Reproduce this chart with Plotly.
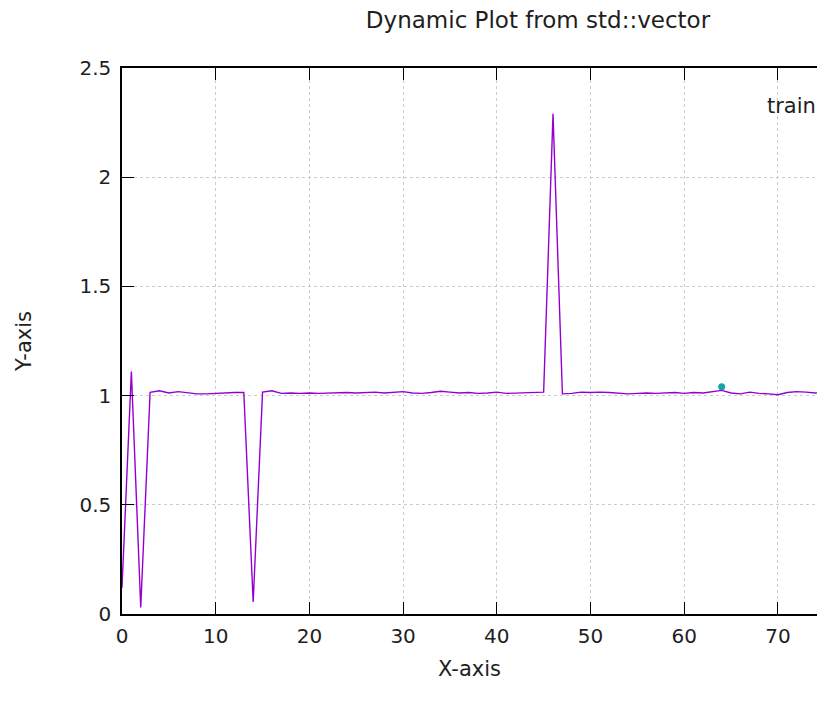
import plotly.graph_objects as go

x_values = list(range(0, 77))
train_values = [
    0.12, 1.11, 0.03, 1.015, 1.022, 1.012, 1.018, 1.012, 1.008, 1.008,
    1.010, 1.014, 1.014, 1.014, 0.055, 1.016, 1.022, 1.010, 1.012, 1.010,
    1.012, 1.010, 1.012, 1.012, 1.014, 1.012, 1.014, 1.016, 1.012, 1.014,
    1.018, 1.012, 1.010, 1.014, 1.020, 1.016, 1.012, 1.014, 1.010, 1.012,
    1.016, 1.010, 1.012, 1.012, 1.014, 1.016, 2.29, 1.008, 1.010, 1.016,
    1.014, 1.016, 1.014, 1.012, 1.008, 1.010, 1.012, 1.010, 1.012, 1.014,
    1.010, 1.014, 1.012, 1.018, 1.024, 1.012, 1.008, 1.016, 1.010, 1.008,
    1.004, 1.014, 1.018, 1.016, 1.012, 1.014, 1.012,
]
point_x = [64]
point_y = [1.04]

x_ticks = [0, 10, 20, 30, 40, 50, 60, 70]
y_ticks = [0, 0.5, 1, 1.5, 2, 2.5]
y_tick_labels = ["0", "0.5", "1", "1.5", "2", "2.5"]

FONT = "DejaVu Sans"
TXT = "#1e1e1e"

fig = go.Figure()
fig.add_trace(go.Scatter(
    x=x_values, y=train_values, mode="lines", name="train",
    line=dict(color="#9400d3", width=1.4), showlegend=False,
))
fig.add_trace(go.Scatter(
    x=point_x, y=point_y, mode="markers", name="point",
    marker=dict(color="#1aa3aa", size=7), showlegend=False,
))

fig.update_layout(
    width=817, height=715,
    margin=dict(l=122, r=0, t=68, b=101, autoexpand=False),
    paper_bgcolor="white", plot_bgcolor="white",
    font=dict(family=FONT, size=19, color=TXT),
    title=dict(text="Dynamic Plot from std::vector", x=538/817, xref="container",
               xanchor="center", y=1 - 20/715, yref="container", yanchor="middle",
               font=dict(family=FONT, size=23, color=TXT)),
    annotations=[dict(text="train", xref="paper", yref="paper",
                      x=(765-122)/695, y=(614-106)/546, xanchor="left", yanchor="middle",
                      showarrow=False, font=dict(family=FONT, size=21, color=TXT))],
)
fig.update_xaxes(
    range=[0, 695/9.37], tickvals=x_ticks, ticks="inside", ticklen=12,
    tickcolor="black", showline=True, linecolor="black", linewidth=1.5, mirror="ticks",
    showgrid=True, gridcolor="#cccccc", griddash="dot", gridwidth=1, zeroline=False,
    ticklabelstandoff=3, tickfont=dict(family=FONT, size=20, color=TXT),
    title=dict(text="X-axis", font=dict(family=FONT, size=21, color=TXT), standoff=15),
)
fig.update_yaxes(
    range=[0, 2.5], tickvals=y_ticks, ticktext=y_tick_labels, ticks="inside", ticklen=12,
    tickcolor="black", showline=True, linecolor="black", linewidth=1.5,
    showgrid=True, gridcolor="#cccccc", griddash="dot", gridwidth=1, zeroline=False,
    ticklabelstandoff=5, tickfont=dict(family=FONT, size=20, color=TXT),
    title=dict(text="Y-axis", font=dict(family=FONT, size=21, color=TXT), standoff=42),
)

fig.write_html("out.html", config={"displayModeBar": False},
               post_script="document.body.style.margin='0';document.body.style.overflow='hidden';")
